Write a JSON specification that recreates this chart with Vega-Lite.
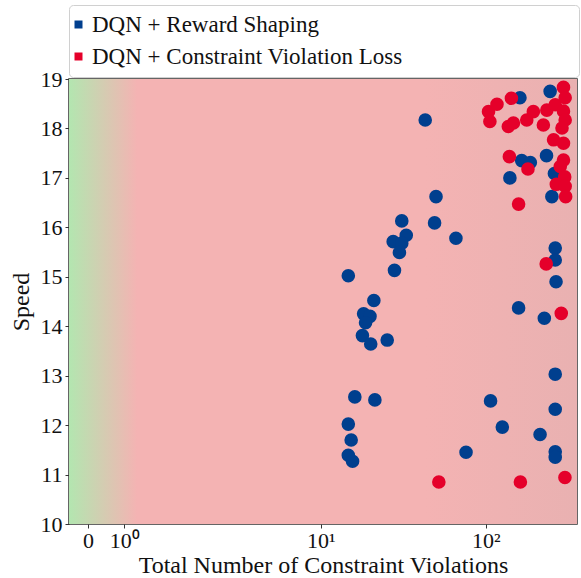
{
  "$schema": "https://vega.github.io/schema/vega-lite/v6.json",
  "width": 508,
  "height": 445,
  "autosize": {"type": "none"},
  "padding": {"left": 69, "top": 79, "right": 4, "bottom": 54},
  "background": "white",
  "config": {
    "font": "Liberation Serif",
    "view": {"stroke": "#333333", "strokeWidth": 1.5},
    "axis": {"labelFont": "Liberation Serif", "titleFont": "Liberation Serif", "labelFontSize": 22, "titleFontSize": 24, "titleFontWeight": "normal", "labelColor": "#111", "titleColor": "#111", "grid": false, "domain": false, "tickColor": "#333", "tickSize": 4, "tickWidth": 1}
  },
  "datasets": {
    "points": [
      {"method": "DQN + Reward Shaping", "violations": 43, "speed": 18.17},
      {"method": "DQN + Reward Shaping", "violations": 161, "speed": 18.62},
      {"method": "DQN + Reward Shaping", "violations": 245, "speed": 18.75},
      {"method": "DQN + Reward Shaping", "violations": 165, "speed": 17.35},
      {"method": "DQN + Reward Shaping", "violations": 186, "speed": 17.31},
      {"method": "DQN + Reward Shaping", "violations": 233, "speed": 17.45},
      {"method": "DQN + Reward Shaping", "violations": 140, "speed": 17.0},
      {"method": "DQN + Reward Shaping", "violations": 260, "speed": 17.09},
      {"method": "DQN + Reward Shaping", "violations": 251, "speed": 16.62},
      {"method": "DQN + Reward Shaping", "violations": 50, "speed": 16.62},
      {"method": "DQN + Reward Shaping", "violations": 31, "speed": 16.13},
      {"method": "DQN + Reward Shaping", "violations": 49, "speed": 16.09},
      {"method": "DQN + Reward Shaping", "violations": 66, "speed": 15.78},
      {"method": "DQN + Reward Shaping", "violations": 33, "speed": 15.84},
      {"method": "DQN + Reward Shaping", "violations": 27.5, "speed": 15.71},
      {"method": "DQN + Reward Shaping", "violations": 31, "speed": 15.68},
      {"method": "DQN + Reward Shaping", "violations": 30, "speed": 15.49},
      {"method": "DQN + Reward Shaping", "violations": 28, "speed": 15.13},
      {"method": "DQN + Reward Shaping", "violations": 14.7, "speed": 15.02},
      {"method": "DQN + Reward Shaping", "violations": 263, "speed": 15.58},
      {"method": "DQN + Reward Shaping", "violations": 263, "speed": 15.34},
      {"method": "DQN + Reward Shaping", "violations": 266, "speed": 14.9},
      {"method": "DQN + Reward Shaping", "violations": 21, "speed": 14.52},
      {"method": "DQN + Reward Shaping", "violations": 18.2, "speed": 14.25},
      {"method": "DQN + Reward Shaping", "violations": 19.9, "speed": 14.2},
      {"method": "DQN + Reward Shaping", "violations": 18.7, "speed": 14.07},
      {"method": "DQN + Reward Shaping", "violations": 17.9, "speed": 13.81},
      {"method": "DQN + Reward Shaping", "violations": 20.1, "speed": 13.64},
      {"method": "DQN + Reward Shaping", "violations": 25.3, "speed": 13.72},
      {"method": "DQN + Reward Shaping", "violations": 158, "speed": 14.37},
      {"method": "DQN + Reward Shaping", "violations": 226, "speed": 14.16},
      {"method": "DQN + Reward Shaping", "violations": 263, "speed": 13.03},
      {"method": "DQN + Reward Shaping", "violations": 16.1, "speed": 12.57},
      {"method": "DQN + Reward Shaping", "violations": 21.3, "speed": 12.51},
      {"method": "DQN + Reward Shaping", "violations": 107, "speed": 12.49},
      {"method": "DQN + Reward Shaping", "violations": 263, "speed": 12.32},
      {"method": "DQN + Reward Shaping", "violations": 14.7, "speed": 12.02},
      {"method": "DQN + Reward Shaping", "violations": 126, "speed": 11.96},
      {"method": "DQN + Reward Shaping", "violations": 213, "speed": 11.81},
      {"method": "DQN + Reward Shaping", "violations": 15.3, "speed": 11.7},
      {"method": "DQN + Reward Shaping", "violations": 14.7, "speed": 11.39},
      {"method": "DQN + Reward Shaping", "violations": 15.6, "speed": 11.27},
      {"method": "DQN + Reward Shaping", "violations": 76, "speed": 11.45},
      {"method": "DQN + Reward Shaping", "violations": 263, "speed": 11.46},
      {"method": "DQN + Reward Shaping", "violations": 263, "speed": 11.35},
      {"method": "DQN + Constraint Violation Loss", "violations": 104, "speed": 18.34},
      {"method": "DQN + Constraint Violation Loss", "violations": 117, "speed": 18.49},
      {"method": "DQN + Constraint Violation Loss", "violations": 106, "speed": 18.14},
      {"method": "DQN + Constraint Violation Loss", "violations": 143, "speed": 18.61},
      {"method": "DQN + Constraint Violation Loss", "violations": 137, "speed": 18.04},
      {"method": "DQN + Constraint Violation Loss", "violations": 147, "speed": 18.11},
      {"method": "DQN + Constraint Violation Loss", "violations": 177, "speed": 18.17},
      {"method": "DQN + Constraint Violation Loss", "violations": 194, "speed": 18.34},
      {"method": "DQN + Constraint Violation Loss", "violations": 223, "speed": 18.07},
      {"method": "DQN + Constraint Violation Loss", "violations": 234, "speed": 18.37},
      {"method": "DQN + Constraint Violation Loss", "violations": 263, "speed": 18.48},
      {"method": "DQN + Constraint Violation Loss", "violations": 295, "speed": 18.83},
      {"method": "DQN + Constraint Violation Loss", "violations": 302, "speed": 18.62},
      {"method": "DQN + Constraint Violation Loss", "violations": 295, "speed": 18.35},
      {"method": "DQN + Constraint Violation Loss", "violations": 302, "speed": 18.17},
      {"method": "DQN + Constraint Violation Loss", "violations": 289, "speed": 18.01},
      {"method": "DQN + Constraint Violation Loss", "violations": 257, "speed": 17.77},
      {"method": "DQN + Constraint Violation Loss", "violations": 295, "speed": 17.7},
      {"method": "DQN + Constraint Violation Loss", "violations": 295, "speed": 17.36},
      {"method": "DQN + Constraint Violation Loss", "violations": 282, "speed": 17.23},
      {"method": "DQN + Constraint Violation Loss", "violations": 300, "speed": 17.02},
      {"method": "DQN + Constraint Violation Loss", "violations": 267, "speed": 16.87},
      {"method": "DQN + Constraint Violation Loss", "violations": 302, "speed": 16.83},
      {"method": "DQN + Constraint Violation Loss", "violations": 304, "speed": 16.62},
      {"method": "DQN + Constraint Violation Loss", "violations": 139, "speed": 17.43},
      {"method": "DQN + Constraint Violation Loss", "violations": 180, "speed": 17.18},
      {"method": "DQN + Constraint Violation Loss", "violations": 158, "speed": 16.47},
      {"method": "DQN + Constraint Violation Loss", "violations": 232, "speed": 15.26},
      {"method": "DQN + Constraint Violation Loss", "violations": 286, "speed": 14.26},
      {"method": "DQN + Constraint Violation Loss", "violations": 52, "speed": 10.85},
      {"method": "DQN + Constraint Violation Loss", "violations": 162, "speed": 10.85},
      {"method": "DQN + Constraint Violation Loss", "violations": 301, "speed": 10.94}
    ]
  },
  "layer": [
    {
      "data": {"values": [{}]},
      "mark": {
        "type": "rect",
        "fill": {
          "gradient": "linear", "x1": 0, "y1": 0, "x2": 1, "y2": 0,
          "stops": [
            {"offset": 0, "color": "#b3e6b0"},
            {"offset": 0.134, "color": "#f4b3b3"},
            {"offset": 0.7, "color": "#f4b3b3"},
            {"offset": 1, "color": "#e9b1b1"}
          ]
        }
      },
      "encoding": {
        "x": {"datum": -0.52, "type": "quantitative", "scale": {"type": "symlog", "constant": 0.001, "domain": [-0.52, 0, 1, 10, 100, 356], "range": [0, 19, 55.3, 251.7, 416.7, 508], "nice": false, "zero": false}},
        "x2": {"datum": 356},
        "y": {"datum": 10, "type": "quantitative"},
        "y2": {"datum": 19}
      }
    },
    {
      "data": {"name": "points"},
      "mark": {"type": "point", "shape": "circle", "filled": true, "size": 185, "opacity": 1, "strokeWidth": 0},
      "encoding": {
        "x": {
          "field": "violations", "type": "quantitative",
          "title": "Total Number of Constraint Violations",
          "axis": {"values": [0, 1, 10, 100], "labelExpr": "datum.value == 0 ? '0' : datum.value == 1 ? '10⁰' : datum.value == 10 ? '10¹' : '10²'", "labelPadding": 2, "titlePadding": 2}
        },
        "y": {
          "field": "speed", "type": "quantitative", "title": "Speed",
          "scale": {"domain": [10, 19], "nice": false, "zero": false},
          "axis": {"values": [10, 11, 12, 13, 14, 15, 16, 17, 18, 19], "labelPadding": 3, "titlePadding": 7}
        },
        "color": {
          "field": "method", "type": "nominal",
          "scale": {"domain": ["DQN + Reward Shaping", "DQN + Constraint Violation Loss"], "range": ["#003f8e", "#e5002a"]},
          "legend": {
            "title": null,
            "orient": "none", "legendX": 0, "legendY": -74, "direction": "vertical",
            "symbolType": "square", "symbolSize": 64, "symbolStrokeWidth": 0, "symbolOpacity": 1, "symbolOffset": -10,
            "labelFont": "Liberation Serif", "labelFontSize": 23, "labelColor": "#111", "labelOffset": 2, "labelLimit": 700,
            "labelExpr": "datum.label + '\u2003\u2003\u2003\u2003\u2003\u2003\u2003\u2009\u200a\u200b'",
            "rowPadding": 8, "padding": 8, "fillColor": "white", "strokeColor": "#d0d0d0", "cornerRadius": 4
          }
        },
        "order": {"field": "method", "sort": "descending"}
      }
    }
  ]
}
